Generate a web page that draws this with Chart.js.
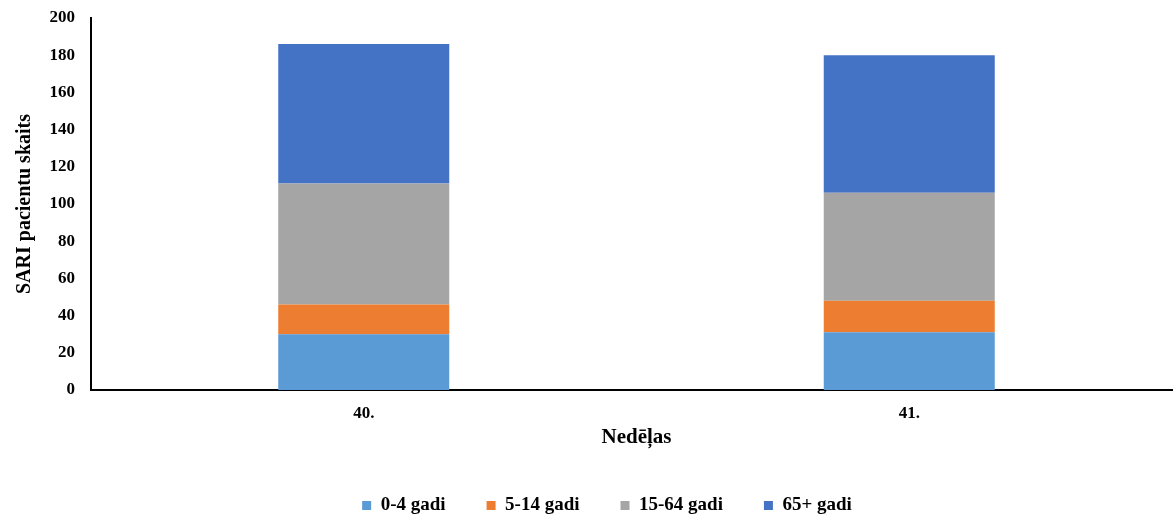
<!DOCTYPE html>
<html>
<head>
<meta charset="utf-8">
<script src="https://cdn.jsdelivr.net/npm/chart.js@4/dist/chart.umd.min.js"></script>
<style>
  html, body { margin: 0; padding: 0; background: #fff; overflow: hidden; }
  #wrap { width: 1182px; height: 515px; }
</style>
</head>
<body>
<div id="wrap"><canvas id="sari"></canvas></div>
<script>
// nedēļas un vecuma grupas
const weeks = ["40.", "41."];
const age0to4 = [30, 31];
const age5to14 = [16, 17];
const age15to64 = [65, 58];
const age65plus = [75, 74];
const yTicks = [0, 20, 40, 60, 80, 100, 120, 140, 160, 180, 200];

const serif = "'Liberation Serif', 'Times New Roman', serif";

// leģendai vajag lielu atstarpi starp elementiem, bet ne vertikāli
const legendFix = {
    id: "legendFix",
    beforeInit(chart) {
        const legend = chart.legend;
        const fit = legend.fit;
        legend.fit = function () {
            fit.call(this);
            this.height = 62;
        };
        const draw = legend.draw;
        legend.draw = function () {
            const ctx = this.ctx;
            ctx.save();
            ctx.translate(16, 2);
            draw.call(this);
            ctx.restore();
        };
    },
};

new Chart(document.getElementById("sari"), {
    type: "bar",
    data: {
        labels: weeks,
        datasets: [
            { label: "0-4 gadi", data: age0to4, backgroundColor: "#5b9bd5" },
            { label: "5-14 gadi", data: age5to14, backgroundColor: "#ed7d31" },
            { label: "15-64 gadi", data: age15to64, backgroundColor: "#a5a5a5" },
            { label: "65+ gadi", data: age65plus, backgroundColor: "#4472c4" },
        ],
    },
    plugins: [legendFix],
    options: {
        responsive: true,
        maintainAspectRatio: false,
        animation: false,
        layout: { padding: { top: 18, right: 0, left: 0, bottom: 0 } },
        datasets: {
            bar: { categoryPercentage: 1, barPercentage: 0.3135 },
        },
        plugins: {
            tooltip: { enabled: false },
            legend: {
                position: "bottom",
                labels: {
                    color: "#000",
                    boxWidth: 9,
                    boxHeight: 9,
                    padding: 41,
                    font: { family: serif, size: 19, weight: "bold" },
                },
            },
        },
        scales: {
            x: {
                stacked: true,
                grid: { display: false, drawTicks: false },
                border: { color: "#000", width: 2 },
                afterFit: (scale) => {
                    scale.height = 63;
                    scale.paddingLeft = 0;
                    scale.paddingRight = 0;
                },
                ticks: {
                    color: "#000",
                    padding: 13,
                    font: { family: serif, size: 17, weight: "bold" },
                },
                title: {
                    display: true,
                    text: "Nedēļas",
                    color: "#000",
                    padding: { top: 0, bottom: 3 },
                    font: { family: serif, size: 21, weight: "bold" },
                },
            },
            y: {
                stacked: true,
                min: 0,
                max: 200,
                grid: { display: false, drawTicks: false },
                border: { color: "#000", width: 2 },
                afterBuildTicks: (scale) => {
                    scale.ticks = yTicks.map((v) => ({ value: v }));
                },
                afterFit: (scale) => {
                    scale.width = 91;
                    scale.paddingTop = 0;
                    scale.paddingBottom = 0;
                },
                ticks: {
                    color: "#000",
                    padding: 16,
                    font: { family: serif, size: 17, weight: "bold" },
                },
                title: {
                    display: true,
                    text: "SARI pacientu skaits",
                    color: "#000",
                    padding: { top: 13, bottom: 0 },
                    font: { family: serif, size: 20, weight: "bold" },
                },
            },
        },
    },
});
</script>
</body>
</html>
